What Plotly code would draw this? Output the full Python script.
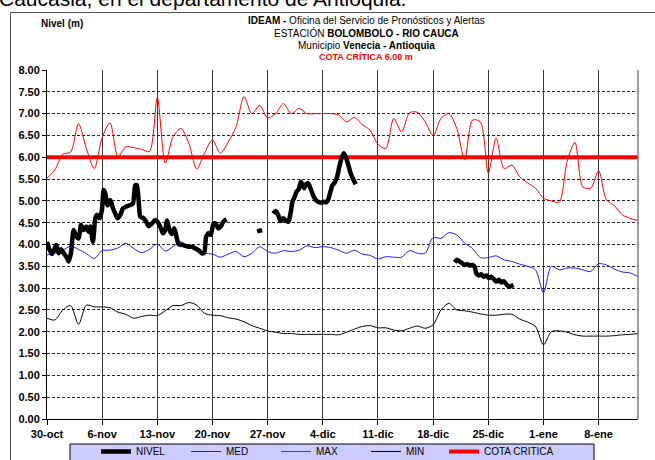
import plotly.graph_objects as go
from datetime import datetime, timedelta

# ---------------- data ----------------
inicio = datetime(2010, 10, 30)
dias = list(range(76))

nivel_max = [5.52, 5.71, 6.07, 6.12, 6.77, 6.20, 5.74, 6.45, 6.79, 6.01,
             6.24, 6.22, 6.18, 6.13, 7.37, 5.87, 6.47, 6.66, 6.32, 5.73,
             6.10, 6.40, 6.09, 6.35, 6.70, 7.39, 7.00, 7.19, 6.90, 7.00,
             7.23, 7.00, 7.12, 7.00, 7.00, 7.00, 7.00, 6.97, 6.81, 6.91,
             6.75, 6.62, 6.30, 6.20, 6.89, 6.58, 7.02, 7.03, 6.81, 6.50,
             6.89, 7.00, 6.66, 5.94, 6.85, 6.81, 5.63, 6.44, 5.74, 5.82,
             5.55, 5.41, 5.29, 5.06, 5.00, 4.97, 5.90, 6.34, 5.32, 5.29,
             5.69, 5.02, 4.89, 4.68, 4.60, 4.55]

nivel_med = [3.76, 3.80, 3.87, 3.96, 3.89, 3.79, 3.68, 3.86, 3.87, 3.92,
             4.03, 3.91, 3.81, 3.89, 4.01, 3.85, 3.95, 4.06, 3.95, 3.86,
             3.80, 3.78, 3.71, 3.78, 3.84, 3.72, 3.80, 3.95, 3.84, 3.80,
             3.86, 3.84, 3.87, 3.97, 3.93, 3.95, 3.93, 3.87, 3.80, 3.87,
             3.78, 3.75, 3.67, 3.72, 3.71, 3.71, 3.86, 3.80, 3.80, 4.16,
             4.14, 4.27, 4.22, 4.03, 3.91, 3.70, 3.70, 3.74, 3.65, 3.61,
             3.55, 3.50, 3.42, 2.89, 3.50, 3.42, 3.46, 3.46, 3.42, 3.38,
             3.56, 3.53, 3.44, 3.37, 3.35, 3.26]

nivel_min = [2.31, 2.27, 2.50, 2.60, 2.17, 2.61, 2.57, 2.57, 2.55, 2.45,
             2.40, 2.31, 2.35, 2.38, 2.37, 2.48, 2.60, 2.60, 2.67, 2.61,
             2.42, 2.38, 2.37, 2.32, 2.29, 2.23, 2.14, 2.08, 2.02, 1.99,
             1.96, 1.96, 1.94, 1.94, 1.94, 1.94, 1.94, 1.93, 1.99, 2.06,
             2.12, 2.14, 2.09, 2.09, 2.04, 2.02, 2.08, 2.13, 2.08, 2.16,
             2.50, 2.65, 2.50, 2.48, 2.45, 2.41, 2.38, 2.38, 2.40, 2.40,
             2.29, 2.22, 2.12, 1.70, 2.00, 2.02, 1.99, 1.93, 1.90, 1.90,
             1.90, 1.90, 1.91, 1.93, 1.94, 1.96]

cota_critica = 6.00

nivel_dia = [0.00, 0.34, 0.63, 0.93, 1.18, 1.48, 1.78, 2.11, 2.45, 2.75,
             3.04, 3.38, 3.72, 4.02, 4.31, 4.65, 4.99, 5.28, 5.49, 5.83,
             6.13, 6.34, 6.68, 6.97, 7.19, 7.40, 7.69, 8.03, 8.37, 8.66,
             8.96, 9.30, 9.64, 10.06, 10.48, 10.90, 11.20, 11.41, 11.67, 11.84,
             12.26, 12.59, 12.89, 13.31, 13.74, 14.03, 14.37, 14.71, 15.00, 15.22,
             15.55, 15.85, 16.15, 16.48, 16.69, 17.12, 17.54, 17.96, 18.39, 18.81,
             19.23, 19.65, 19.95, 20.20, 20.50, 20.79, 21.13, 21.43, 21.72, 22.02,
             22.36, 22.78,
             24.7,
             26.67, 27.30,
             28.0,
             28.70, 29.04, 29.33, 29.63, 29.97, 30.30, 30.64, 30.90, 31.15, 31.45,
             31.66, 31.95, 32.21, 32.42, 32.63, 32.84, 33.14, 33.43, 33.77, 34.11,
             34.53, 34.83, 35.12, 35.46, 35.67, 35.97, 36.22, 36.52, 36.81, 37.07,
             37.36, 37.66, 37.91, 38.21, 38.50, 38.84, 39.18,
             45.0,
             51.74, 52.03, 52.37, 52.71, 53.00, 53.30, 53.64, 53.98, 54.27, 54.48,
             54.82, 55.12, 55.41, 55.75, 56.09, 56.38, 56.68, 57.02, 57.36, 57.65,
             57.95, 58.29, 58.62, 58.92, 59.22]

nivel_obs = [4.06, 3.87, 3.78, 3.89, 3.99, 3.80, 3.89, 3.80, 3.72, 3.61,
             3.80, 4.33, 4.18, 4.14, 4.45, 4.33, 4.41, 4.29, 4.41, 4.06,
             4.60, 4.68, 4.60, 4.79, 5.25, 5.17, 4.90, 5.02, 4.83, 4.71,
             4.60, 4.68, 4.83, 4.87, 4.90, 4.94, 5.36, 5.36, 4.90, 4.64,
             4.60, 4.52, 4.42, 4.48, 4.56, 4.52, 4.41, 4.26, 4.33, 4.55,
             4.33, 4.24, 4.37, 4.14, 4.01, 3.99, 3.97, 3.95, 3.95, 3.91,
             3.87, 3.80, 3.81, 4.18, 4.26, 4.22, 4.48, 4.48, 4.37, 4.40,
             4.52, 4.58,
             None,
             4.30, 4.33,
             None,
             4.71, 4.77, 4.68, 4.54, 4.60, 4.55, 4.52, 4.71, 4.98, 5.10,
             5.21, 5.27, 5.44, 5.38, 5.29, 5.38, 5.40, 5.29, 5.13, 5.02,
             4.97, 4.96, 4.98, 4.97, 5.02, 5.21, 5.36, 5.42, 5.55, 5.76,
             5.97, 6.09, 6.01, 5.84, 5.65, 5.50, 5.38,
             None,
             3.59, 3.65, 3.61, 3.57, 3.53, 3.55, 3.52, 3.53, 3.49, 3.34,
             3.29, 3.32, 3.26, 3.29, 3.23, 3.26, 3.21, 3.15, 3.19, 3.13,
             3.16, 3.09, 3.03, 3.05, 3.07]

tick_dias = [0, 7, 14, 21, 28, 35, 42, 49, 56, 63, 70]
tick_labels = ['30-oct', '6-nov', '13-nov', '20-nov', '27-nov', '4-dic',
               '11-dic', '18-dic', '25-dic', '1-ene', '8-ene']
y_ticks = [0.0, 0.5, 1.0, 1.5, 2.0, 2.5, 3.0, 3.5, 4.0, 4.5, 5.0, 5.5, 6.0, 6.5, 7.0, 7.5, 8.0]


def fecha(d):
    return inicio + timedelta(days=d)


fechas = [fecha(d) for d in dias]
fechas_nivel = [fecha(d) for d in nivel_dia]
fin = fecha(75)

FONT = "Arial, 'Liberation Sans', sans-serif"

fig = go.Figure()

fig.add_trace(go.Scatter(x=fechas, y=nivel_med, name='MED', mode='lines',
                         line=dict(color='#1a1aff', width=1, shape='spline', smoothing=0.8),
                         legendrank=2, legend='legend'))
fig.add_trace(go.Scatter(x=fechas, y=nivel_max, name='MAX', mode='lines',
                         line=dict(color='#ff0000', width=1, shape='spline', smoothing=0.8),
                         legendrank=3, legend='legend'))
fig.add_trace(go.Scatter(x=fechas, y=nivel_min, name='MIN', mode='lines',
                         line=dict(color='#000000', width=1, shape='spline', smoothing=0.8),
                         legendrank=4, legend='legend'))
fig.add_trace(go.Scatter(x=[inicio, fin], y=[cota_critica, cota_critica], name='COTA CRITICA',
                         mode='lines', line=dict(color='#ff0000', width=4),
                         legendrank=5, legend='legend2'))
fig.add_trace(go.Scatter(x=fechas_nivel, y=nivel_obs, name='NIVEL', mode='lines',
                         connectgaps=False,
                         line=dict(color='#000000', width=4.5, shape='spline', smoothing=0.6),
                         legendrank=1, legend='legend'))

PL, PR, PT, PB = 47, 17, 70, 41
W, H = 655, 460
pw, ph = W - PL - PR, H - PT - PB


def px(xp):
    return (xp - PL) / pw


def py(yp):
    return (H - PB - yp) / ph


leg_common = dict(orientation='h', yanchor='top', bgcolor='rgba(0,0,0,0)', borderwidth=0,
                  font=dict(family=FONT, size=10, color='black'), itemwidth=30,
                  traceorder='normal')

fig.update_layout(
    width=W, height=H,
    margin=dict(l=PL, r=PR, t=PT, b=PB, autoexpand=False),
    paper_bgcolor='white', plot_bgcolor='white',
    font=dict(family=FONT, color='black', size=10),
    showlegend=True,
    legend=dict(x=px(96), xanchor='left', y=py(437), entrywidth=45, **leg_common),
    legend2=dict(x=px(444), xanchor='left', y=py(437), **leg_common),
    xaxis=dict(type='date', range=[inicio, fin],
               tickmode='array', tickvals=[fecha(d) for d in tick_dias], ticktext=tick_labels,
               showgrid=True, gridcolor='#3a3a3a', gridwidth=1,
               showline=True, linecolor='black', linewidth=1,
               ticks='outside', ticklen=5, tickcolor='black',
               tickfont=dict(family=FONT, size=11, color='black', weight='bold'),
               zeroline=False),
    yaxis=dict(range=[0, 8], tickmode='array', tickvals=y_ticks,
               ticktext=[f'{v:.2f}' for v in y_ticks],
               showgrid=True, gridcolor='#222', gridwidth=1, griddash='3px,2px',
               showline=True, linecolor='black', linewidth=1,
               ticks='outside', ticklen=4, tickcolor='black',
               tickfont=dict(family=FONT, size=11, color='black', weight='bold'),
               zeroline=False),
    shapes=[
        dict(type='line', xref='paper', yref='paper', x0=1, x1=1, y0=0, y1=1,
             line=dict(color='#808080', width=1.5)),
        dict(type='rect', xref='paper', yref='paper', x0=px(70), x1=px(594), y0=py(470), y1=py(444),
             fillcolor='#ccccff', line=dict(color='black', width=1), layer='below'),
        dict(type='rect', xref='paper', yref='paper', x0=px(10.5), x1=px(670), y0=py(480), y1=py(12.5),
             fillcolor='rgba(0,0,0,0)', line=dict(color='#555', width=1)),
    ],
    annotations=[
        dict(text='Caucasia, en el departamento de Antioquia.', xref='paper', yref='paper',
             x=px(-3), xanchor='left', y=py(12.5), yanchor='bottom', showarrow=False,
             font=dict(family=FONT, size=21, color='black')),
        dict(text='<b>Nivel (m)</b>', xref='paper', yref='paper', x=px(62), xanchor='center',
             y=py(23), yanchor='middle', showarrow=False, font=dict(family=FONT, size=10)),
        dict(text='<b>IDEAM -</b> Oficina del Servicio de Pronósticos y Alertas', xref='paper',
             yref='paper', x=px(366), xanchor='center', y=py(20), yanchor='middle',
             showarrow=False, font=dict(family=FONT, size=10)),
        dict(text='ESTACIÓN <b>BOLOMBOLO - RIO CAUCA</b>', xref='paper', yref='paper',
             x=px(366), xanchor='center', y=py(33), yanchor='middle', showarrow=False,
             font=dict(family=FONT, size=10)),
        dict(text='Municipio <b>Venecia - Antioquia</b>', xref='paper', yref='paper',
             x=px(366), xanchor='center', y=py(46), yanchor='middle', showarrow=False,
             font=dict(family=FONT, size=10)),
        dict(text='<b>COTA CRÍTICA 6.00 m</b>', xref='paper', yref='paper',
             x=px(366), xanchor='center', y=py(57.5), yanchor='middle', showarrow=False,
             font=dict(family=FONT, size=9, color='#ff0000')),
    ],
)

fig.write_html('out.html',
               config={'displayModeBar': False},
               post_script="document.body.style.margin='0';document.body.style.padding='0';"
                           "document.documentElement.style.overflow='hidden';")
